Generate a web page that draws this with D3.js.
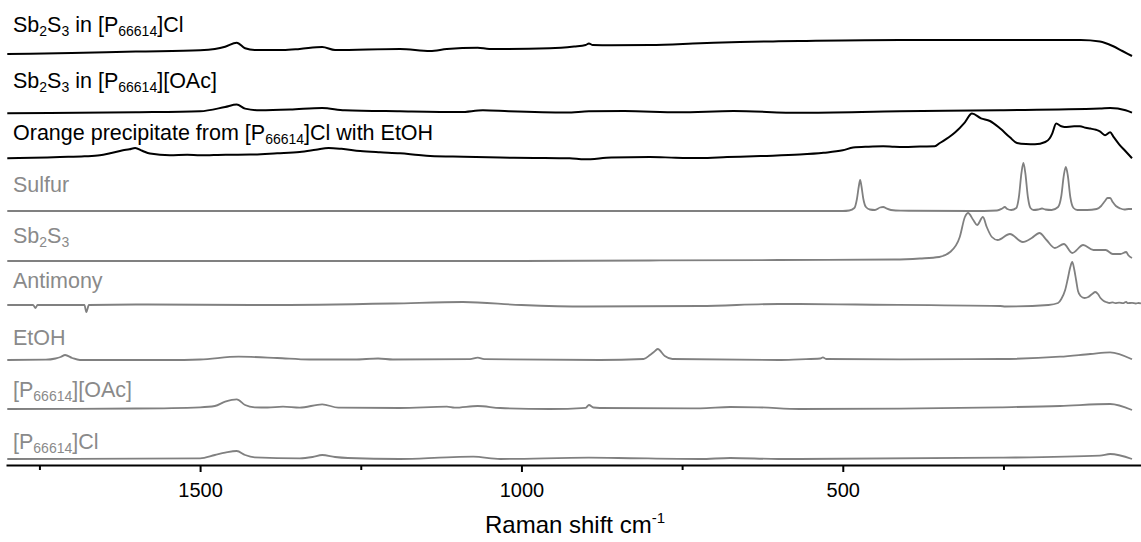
<!DOCTYPE html>
<html lang="en">
<head>
<meta charset="utf-8">
<title>Raman spectra</title>
<script src="https://d3js.org/d3.v7.min.js"></script>
<style>
  body { margin: 0; background: #fff; }
  svg { display: block; font-family: "Liberation Sans", Arial, sans-serif; }
</style>
</head>
<body>
<script>
// spectrum names, top to bottom ( _{..} = subscript )
const names = [
  "Sb_{2}S_{3} in [P_{66614}]Cl",
  "Sb_{2}S_{3} in [P_{66614}][OAc]",
  "Orange precipitate from [P_{66614}]Cl with EtOH",
  "Sulfur",
  "Sb_{2}S_{3}",
  "Antimony",
  "EtOH",
  "[P_{66614}][OAc]",
  "[P_{66614}]Cl"
];
const isSample = [true, true, true, false, false, false, false, false, false];

// vertical offset of each stacked spectrum (a.u.)
const offsets = [411, 351.7, 306.7, 254, 204, 160, 105, 56, 6];

// spectra: [Raman shift cm-1, relative intensity]
const sb2s3InCl = [[1800,0],[1700,1],[1600,2.5],[1500,3.7],[1477,5],[1461,7.3],[1443,11.3],[1430,5.7],[1415,4],
  [1371,4],[1345,5],[1310,7],[1290,4],[1189,5],[1142,3],[1116,5],[1068,6.3],[1050,5],[956,5.7],[918,7.5],
  [900,9],[895,10.5],[889,9],[860,8.8],[800,9],[722,10.7],[660,12],[600,12.7],[567,13],[411,14],[255,14],[130,14],[100,12.5],
  [80,8],[65,3],[50,-2]];
const sb2s3InOAc = [[1800,0],[1600,1],[1500,2],[1461,6.3],[1443,8.7],[1430,4.7],[1407,3],[1360,3.7],[1310,5.3],
  [1275,3],[1189,2],[1095,1.3],[1060,3],[1020,2],[930,0.7],[895,2],[840,2.3],[755,1],[670,2.3],[567,0.5],
  [411,2],[255,3],[100,4.7],[84,5.3],[60,3],[50,0.7]];
const orangePpt = [[1800,0],[1760,0.5],[1718,1.3],[1680,2],[1656,3],[1640,5],[1620,8],[1610,9],[1601,10.3],
  [1590,7.5],[1578,4.7],[1547,3],[1520,3.5],[1500,3],[1460,3.6],[1422,3.7],[1380,5],[1345,6.3],[1320,8.5],
  [1300,10.3],[1280,9.5],[1251,7.3],[1220,6],[1189,5],[1160,3.2],[1142,2.3],[1090,1.5],[1033,0.7],[980,0.4],
  [925,0],[902,-1],[860,0.8],[800,1.3],[760,0.6],[722,0.3],[680,1.2],[628,2.3],[567,3.7],[530,5.5],[500,8],
  [484,10.7],[460,11.6],[437,12],[420,11.5],[404,11.3],[380,11.8],[357,12],[349,15.3],[335,21],[325,26],
  [310,36],[299,44.7],[285,40],[271,37.3],[255,29.7],[240,21],[229,15.3],[215,14.2],[201,14],[185,16.3],
  [178,20],[174,25],[168,34.7],[160,32],[155,31.3],[140,32],[131,32],[122,30.5],[115,29.7],[106,28.5],
  [100,27],[92,23],[84,26],[79,21.7],[70,14],[60,7],[50,0]];
const sulfur = [[1800,0],[1000,0],[600,0],[500,0],[490,0.5],[482,3],[478,12],[475,25],[473,31],[471,25],
  [468,12],[464,4],[458,1.5],[450,1],[442,3.5],[437,4],[432,2.5],[425,1],[410,0.3],[300,0],[260,0.5],
  [252,2.5],[248,4],[244,2],[238,1],[230,3],[226,14],[222,38],[219,48],[216,38],[212,14],[208,3],[203,1],
  [196,1.5],[190,2.5],[185,1.5],[175,1],[165,4],[160,15],[156,36],[153,44],[150,36],[146,14],[141,3],
  [135,1],[120,1],[105,2],[98,5],[92,10],[88,13],[84,13],[80,9],[75,5],[68,2.5],[62,1.5],[55,2],[50,2]];
const sb2s3 = [[1800,0],[1000,0],[800,0.5],[600,1],[420,1.5],[380,2.5],[350,4],[333,9],[318,24],[310,44],
  [305,48],[297,41],[291,36],[282,44],[276,34],[268,24],[259,21],[240,27],[220,19],[206,23],[194,28],
  [183,21],[170,13],[156,17],[143,8],[126,16],[110,11],[91,11],[80,7],[68,7],[59,9],[56,6],[50,3]];
const antimony = [[1800,0],[1760,0],[1756,-3],[1753,0],[1680,0],[1677,-7],[1673,0],[1600,0.5],[1400,0],
  [1200,1.5],[1091,3],[1000,0],[900,-1.5],[722,-1],[600,1],[567,1],[480,0.5],[255,-1],[247,-1.5],[180,0],
  [165,2],[160,6],[154,15],[150,26],[146,38],[143,43],[140,36],[137,25],[134,14],[130,9],[124,7],[118,8],
  [112,11],[107,13],[103,11],[99,7],[94,4],[90,3],[85,2],[80,2.6],[76,1.8],[70,2.4],[64,1.8],[59,3.2],
  [57,1.8],[50,2.2],[44,1.5],[40,2],[36,1.5]];
const etoh = [[1800,0],[1740,0.3],[1725,1.5],[1717,3],[1710,5],[1699,2],[1687,0],[1550,0],[1500,0.5],
  [1440,3.3],[1380,2],[1330,0.5],[1260,0.5],[1223,1.5],[1200,0.5],[1080,0.8],[1068,2.3],[1058,0.8],
  [878,0],[810,1],[800,5],[794,8],[788,11],[777,4],[765,1],[600,0],[567,0.7],[535,1.5],[531,2.7],[526,1],
  [411,0.7],[255,1],[162,3.3],[115,6],[84,7.7],[50,0.7]];
const ilOAc = [[1800,0],[1600,0.5],[1500,1.7],[1477,3],[1461,7.3],[1443,9.7],[1430,4],[1415,1.7],[1395,1.5],
  [1371,2.3],[1345,1.3],[1310,4.7],[1285,1.3],[1189,1],[1116,2.3],[1104,1.3],[1068,3],[1033,1],[956,0],
  [900,1.2],[895,4],[888,1.5],[878,1],[722,0.7],[675,2],[632,1.7],[567,0],[411,0.3],[255,1.7],[162,3],
  [84,5],[50,-1]];
const ilCl = [[1800,0],[1500,0.7],[1477,4],[1461,6.3],[1443,8],[1430,4],[1415,1.7],[1345,0.7],[1325,2],
  [1310,4],[1290,2],[1270,1],[1189,0],[1116,1.7],[1075,2.3],[1033,0],[895,1.3],[850,1],[722,0],[675,1],
  [600,0],[567,0],[255,1.3],[100,3.3],[84,5],[50,0]];
const spectra = [sb2s3InCl, sb2s3InOAc, orangePpt, sulfur, sb2s3, antimony, etoh, ilOAc, ilCl];

const majorTicks = [1500, 1000, 500];
const minorTicks = [1750, 1250, 750, 250];

// layout
const W = 1141, H = 542;
const axisY = 465;
const labelY = [32, 88, 140, 192, 243, 288, 345, 397, 449];

const svg = d3.select("body").append("svg").attr("width", W).attr("height", H);

const x = d3.scaleLinear().domain([1802, 36]).range([6, 1141]);
const y = d3.scaleLinear().domain([0, 460]).range([axisY, 5]);

const line = d3.line()
  .x(d => x(d[0]))
  .y(d => y(d[1]))
  .curve(d3.curveMonotoneX);

spectra.forEach((s, i) => {
  svg.append("path")
    .datum(s.map(d => [d[0], d[1] + offsets[i]]))
    .attr("d", line)
    .attr("fill", "none")
    .attr("stroke", isSample[i] ? "#000" : "#808080")
    .attr("stroke-width", isSample[i] ? 2 : 1.8)
    .attr("stroke-linejoin", "round");
});

// labels with subscripts
names.forEach((n, i) => {
  const t = svg.append("text")
    .attr("x", 13).attr("y", labelY[i])
    .attr("font-size", 21.5)
    .attr("fill", isSample[i] ? "#000" : "#8a8a8a");
  let shift = 0;
  n.split(/(_\{[^}]*\})/).filter(p => p.length).forEach(p => {
    if (p.startsWith("_{")) {
      t.append("tspan").attr("font-size", 14).attr("dy", 4 - shift).text(p.slice(2, -1));
      shift = 4;
    } else {
      t.append("tspan").attr("dy", -shift).text(p);
      shift = 0;
    }
  });
});

// x axis
const gMinor = svg.append("g").attr("transform", `translate(0,${axisY})`)
  .call(d3.axisBottom(x).tickValues(minorTicks).tickSize(5).tickFormat(""));
const gMajor = svg.append("g").attr("transform", `translate(0,${axisY})`)
  .call(d3.axisBottom(x).tickValues(majorTicks).tickSize(7).tickSizeOuter(0).tickPadding(11)
    .tickFormat(d3.format("d")));
gMinor.select(".domain").remove();
gMinor.selectAll("text").remove();
[gMinor, gMajor].forEach(g => {
  g.selectAll("line").attr("stroke", "#000").attr("stroke-width", 2);
});
gMajor.select(".domain").attr("stroke", "#000").attr("stroke-width", 2);
gMajor.selectAll("text").attr("font-size", 20).attr("font-family", "Liberation Sans, Arial, sans-serif").attr("fill", "#000");

const title = svg.append("text")
  .attr("x", 575).attr("y", 533)
  .attr("text-anchor", "middle")
  .attr("font-size", 24);
title.append("tspan").text("Raman shift cm");
title.append("tspan").attr("font-size", 15).attr("dy", -10).text("-1");
</script>
</body>
</html>
